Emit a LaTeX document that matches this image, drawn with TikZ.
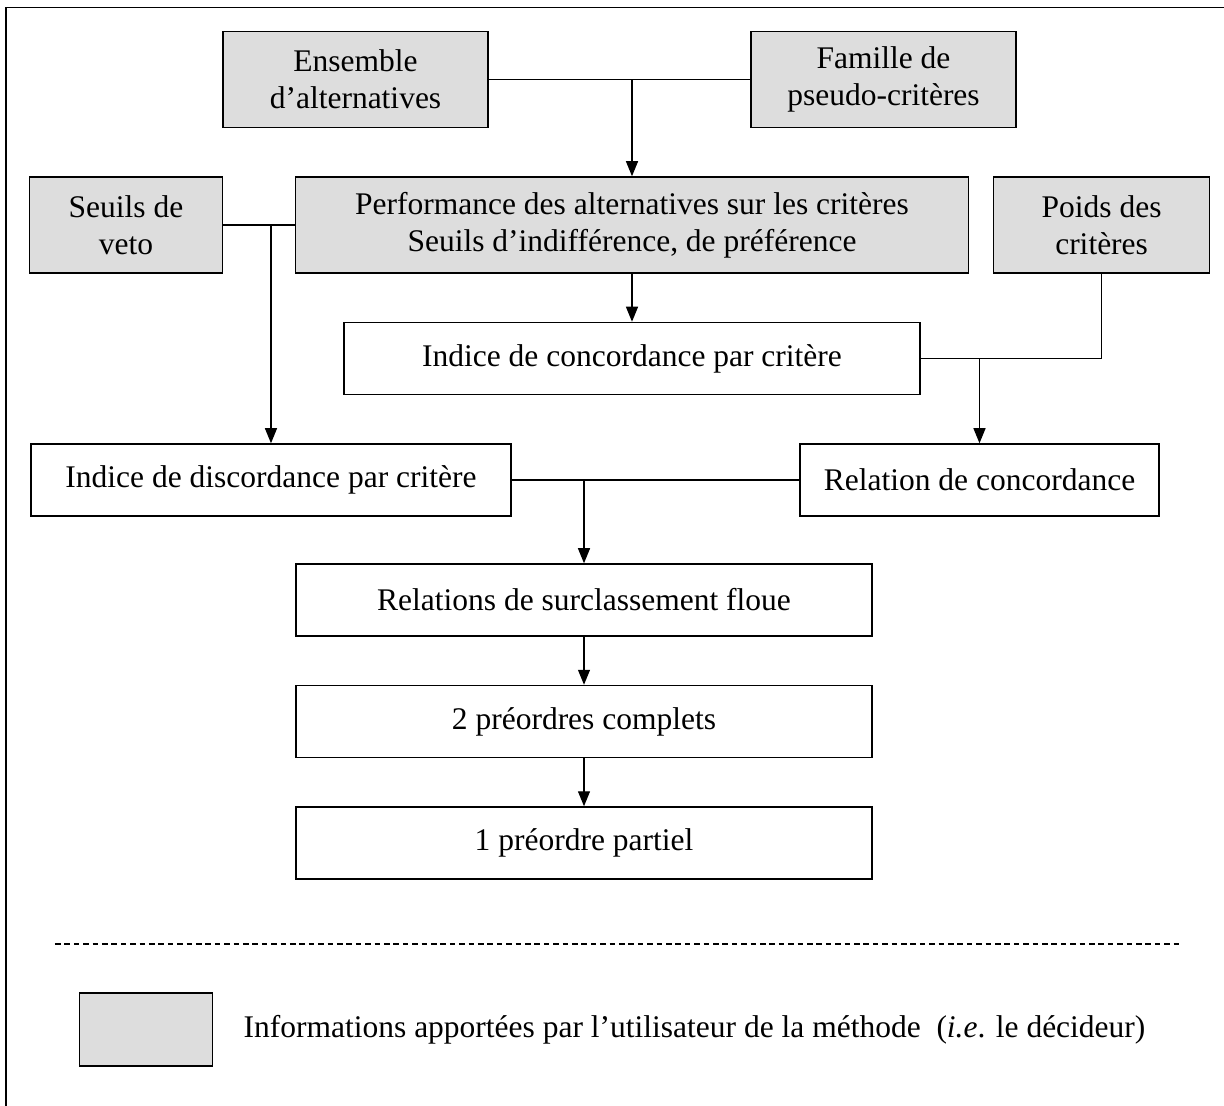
\documentclass[tikz,border=0pt]{standalone}
\usepackage{fontspec}
\setmainfont{Liberation Serif}
\usepackage{xcolor}
\usetikzlibrary{arrows.meta, positioning}
\definecolor{inputgray}{RGB}{221,221,221}

\begin{document}
\begin{tikzpicture}[
        font=\fontsize{15.75}{18.5}\selectfont,
        userinput/.style={draw, line width=0.75pt, fill=inputgray, rectangle, minimum height=48pt, inner sep=0pt, align=center},
        process/.style={draw, line width=0.75pt, rectangle, minimum height=36pt, minimum width=288pt, inner sep=0pt},
        arrow/.style={-{Triangle[length=7.5pt, width=6pt]}, line width=0.6pt},
        link/.style={line width=0.6pt},
        separator/.style={line width=0.6pt, dash pattern=on 2.8pt off 1.9pt}
    ]
        \useasboundingbox (-316pt,-440.5pt) rectangle (296pt,112.5pt);
        % Frame
        \draw[line width=0.75pt] (-313pt,-440.5pt) -- (-313pt,108.8pt) -- (296pt,108.8pt);

        % Nodes
            \node[userinput, minimum width=336.5pt] (perf) {Performance des alternatives sur les critères\\Seuils d’indifférence, de préférence};
            \node[userinput, minimum width=132.5pt, above=24pt of perf, xshift=-138.25pt] (ens) {Ensemble\\d’alternatives};
            \node[userinput, minimum width=132.5pt, above=24pt of perf, xshift=125.75pt] (fam) {Famille de\\pseudo-critères};
            \node[userinput, minimum width=96.5pt, left=35.75pt of perf] (veto) {Seuils de\\veto};
            \node[userinput, minimum width=108pt, right=11.8pt of perf] (poids) {Poids des\\critères};
            \node[process, below=24pt of perf] (conc) {Indice de concordance par critère};
            \node[process, minimum width=240pt, below=24pt of conc, xshift=-180.5pt] (disc) {Indice de discordance par critère};
            \node[process, minimum width=179.5pt, below=24pt of conc, xshift=173.75pt] (rel) {Relation de concordance};
            \node[process, below=84pt of conc, xshift=-24pt] (surc) {Relations de surclassement floue};
            \node[process, below=24pt of surc] (comp) {2 préordres complets};
            \node[process, below=24pt of comp] (part) {1 préordre partiel};

            % Legend
            \coordinate (sepL) at (-288.5pt,-359.5pt);
            \coordinate (sepR) at (275pt,-359.5pt);
            \draw[separator] (sepL) -- (sepR);
            \node[userinput, minimum width=66.5pt, minimum height=36.5pt] (key) at (-243pt,-402.25pt) {};
            \node[right=15pt of key, inner sep=0pt] (keytext) {Informations apportées par l’utilisateur de la méthode\enspace(\textit{i.e}. le décideur)};

            % Arrows
            \draw[link] (ens) -- (fam);
            \draw[arrow] (perf |- ens.east) -- (perf);
            \draw[link] (veto) -- (perf);
            \draw[arrow] (disc |- veto.east) -- (disc);
            \draw[arrow] (perf) -- (conc);
            \draw[link] (poids) |- (conc);
            \draw[arrow] (rel |- conc.east) -- (rel);
            \draw[link] (disc) -- (rel);
            \draw[arrow] (surc |- disc.east) -- (surc);
            \draw[arrow] (surc) -- (comp);
            \draw[arrow] (comp) -- (part);
    \end{tikzpicture}
\end{document}
